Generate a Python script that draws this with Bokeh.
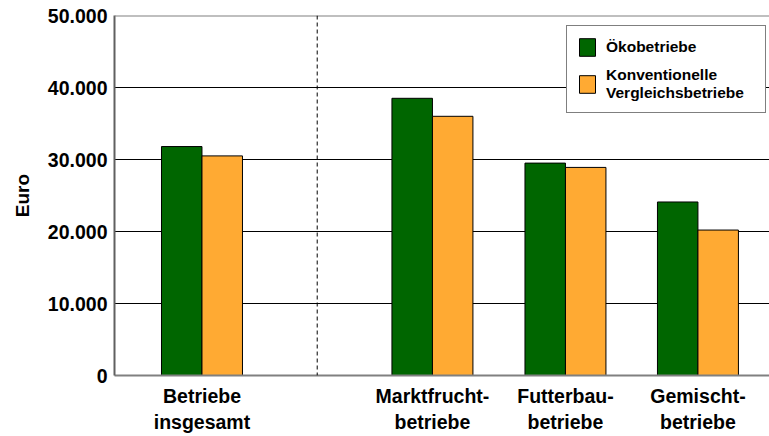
from bokeh.plotting import figure
from bokeh.models import Range1d, FixedTicker, Span, Legend, LegendItem
from bokeh.embed import file_html
from bokeh.resources import INLINE

# ---- data ----
categories = ["Betriebe\ninsgesamt", "Marktfrucht-\nbetriebe", "Futterbau-\nbetriebe", "Gemischt-\nbetriebe"]
oeko = [31800, 38500, 29500, 24100]
konv = [30500, 36000, 28900, 20200]
y_ticks = [0, 10000, 20000, 30000, 40000, 50000]
y_tick_labels = ["0", "10.000", "20.000", "30.000", "40.000", "50.000"]
series_names = ["Ökobetriebe", "Konventionelle\nVergleichsbetriebe"]

# layout positions of groups (group 1 separated by a gap)
group_pos = [0.659, 2.395, 3.397, 4.395]
bar_w = 0.305

FONT = "Liberation Sans"
GREEN = "#006600"
ORANGE = "#FFAA33"

p = figure(width=769, height=436, output_backend="svg", toolbar_location=None,
           x_range=Range1d(0, 4.934), y_range=Range1d(0, 50000),
           min_border_left=114, min_border_right=0, min_border_top=15, min_border_bottom=61)
p.outline_line_color = None
p.background_fill_color = "white"
p.border_fill_color = "white"

# grid
p.xgrid.visible = False
p.ygrid.ticker = FixedTicker(ticks=y_ticks[1:-1])
p.ygrid.grid_line_color = "black"
p.ygrid.grid_line_width = 1

# top line
p.add_layout(Span(location=y_ticks[-1], dimension="width", line_color="#808080", line_width=2))
# dashed separator
p.add_layout(Span(location=(group_pos[0] + group_pos[1]) / 2, dimension="height",
                  line_color="black", line_width=1, line_dash="4 3"))

x_o = [g - bar_w / 2 for g in group_pos]
x_k = [g + bar_w / 2 for g in group_pos]
r1 = p.vbar(x=x_o, top=oeko, width=bar_w, bottom=0, fill_color=GREEN, line_color="black", line_width=1)
r2 = p.vbar(x=x_k, top=konv, width=bar_w, bottom=0, fill_color=ORANGE, line_color="black", line_width=1)

# y axis
ya = p.yaxis[0]
ya.ticker = FixedTicker(ticks=y_ticks)
ya.major_label_overrides = {t: l for t, l in zip(y_ticks, y_tick_labels)}
ya.major_tick_line_color = None
ya.major_tick_out = 0
ya.major_tick_in = 0
ya.minor_tick_line_color = None
ya.axis_line_color = "#606060"
ya.axis_line_width = 2
ya.major_label_text_font = FONT
ya.major_label_text_font_style = "bold"
ya.major_label_text_font_size = "19.5px"
ya.major_label_text_color = "black"
ya.major_label_standoff = 7
ya.axis_label = "Euro"
ya.axis_label_text_font = FONT
ya.axis_label_text_font_style = "bold"
ya.axis_label_text_font_size = "19px"
ya.axis_label_text_color = "black"
ya.axis_label_standoff = 12

# x axis
xa = p.xaxis[0]
xa.ticker = FixedTicker(ticks=group_pos)
xa.major_label_overrides = {g: c for g, c in zip(group_pos, categories)}
xa.major_tick_line_color = None
xa.major_tick_out = 0
xa.major_tick_in = 0
xa.minor_tick_line_color = None
xa.axis_line_color = "#808080"
xa.axis_line_width = 2
xa.major_label_text_font = FONT
xa.major_label_text_font_style = "bold"
xa.major_label_text_font_size = "19.5px"
xa.major_label_text_color = "black"
xa.major_label_text_line_height = 1.22
xa.major_label_standoff = 9

legend = Legend(items=[LegendItem(label=series_names[0], renderers=[r1]),
                       LegendItem(label=series_names[1], renderers=[r2])],
                location=(452, 262))
legend.label_text_font = FONT
legend.label_text_font_style = "bold"
legend.label_text_font_size = "15.5px"
legend.label_text_color = "black"
legend.label_text_line_height = 1.8
legend.label_width = 149
legend.glyph_width = 20
legend.glyph_height = 22
legend.label_standoff = 9
legend.padding = 10
legend.spacing = 8
legend.margin = 0
legend.border_line_color = "black"
legend.border_line_width = 1
legend.background_fill_alpha = 1
p.add_layout(legend, "center")

open("out.html", "w").write(file_html(p, INLINE))
